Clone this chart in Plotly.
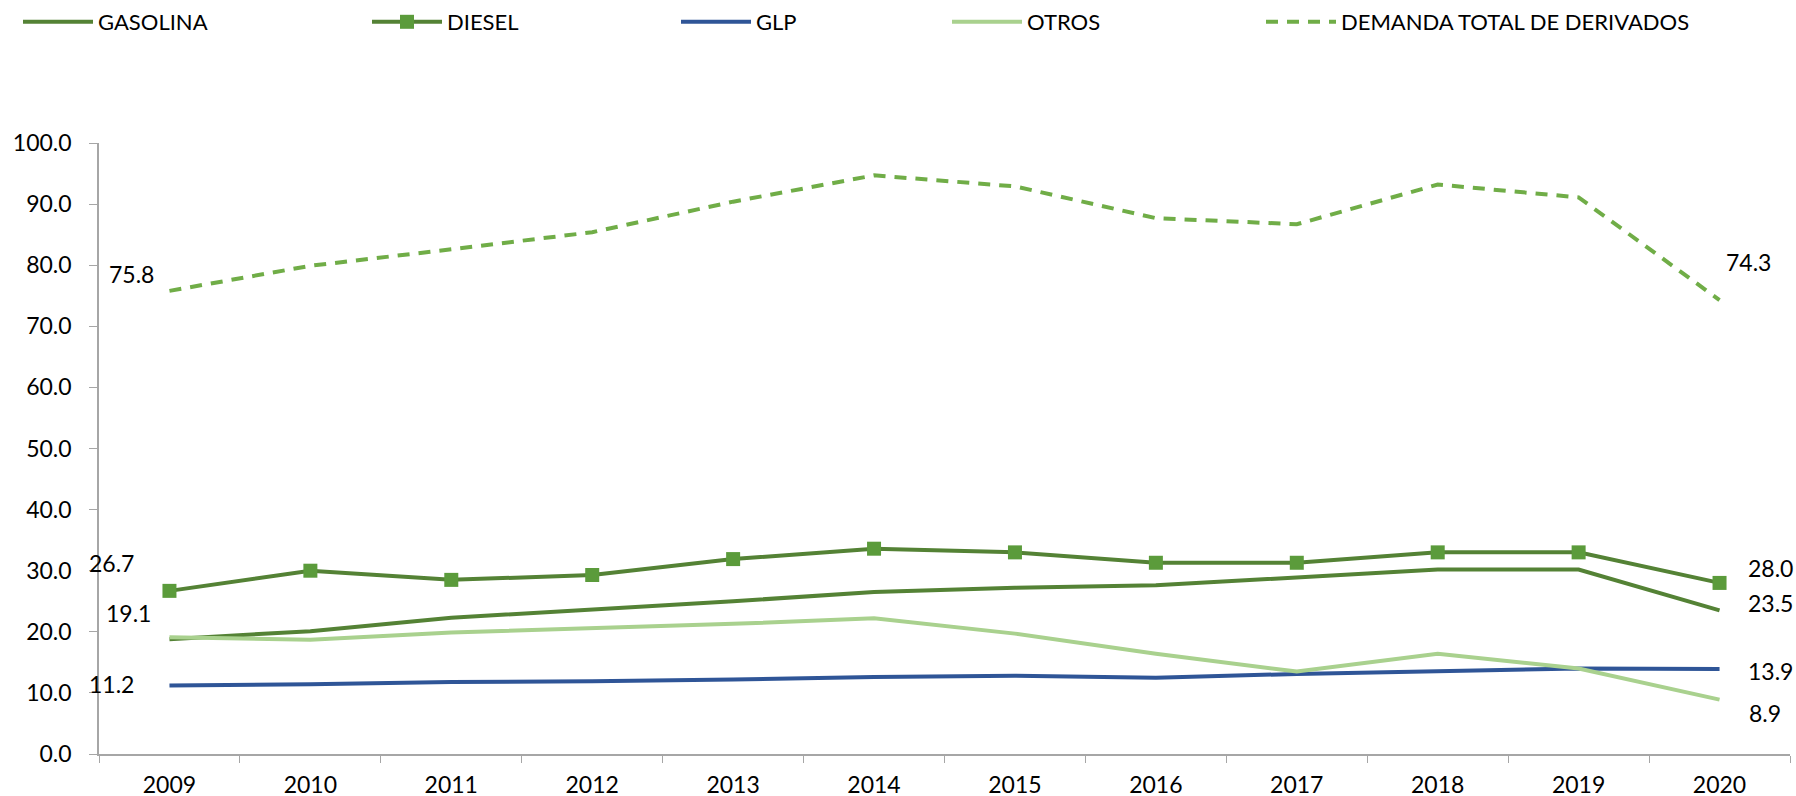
import plotly.graph_objects as go

# ---- data ----
years = ["2009", "2010", "2011", "2012", "2013", "2014", "2015", "2016", "2017", "2018", "2019", "2020"]
gasolina = [18.8, 20.1, 22.3, 23.6, 25.0, 26.5, 27.2, 27.6, 28.9, 30.2, 30.2, 23.5]
diesel = [26.7, 30.0, 28.5, 29.3, 31.9, 33.6, 33.0, 31.3, 31.3, 33.0, 33.0, 28.0]
glp = [11.2, 11.4, 11.8, 11.9, 12.2, 12.6, 12.8, 12.5, 13.1, 13.6, 14.0, 13.9]
otros = [19.1, 18.7, 19.9, 20.6, 21.3, 22.2, 19.7, 16.4, 13.5, 16.4, 14.0, 8.9]
demanda = [75.8, 79.9, 82.6, 85.4, 90.4, 94.7, 92.9, 87.7, 86.7, 93.2, 91.1, 74.3]
y_ticks = [0, 10, 20, 30, 40, 50, 60, 70, 80, 90, 100]

FONT = "Lato, 'Open Sans', sans-serif"
W, H = 1796, 796

C_GAS = "#548235"
C_DIE = "#548235"
C_DIE_M = "#5B9B3B"
C_GLP = "#2F5597"
C_OTR = "#A9D18E"
C_DEM = "#70AD47"

fig = go.Figure()

series = [
    ("GASOLINA", gasolina, dict(color=C_GAS, width=4), None, "legend"),
    ("DIESEL", diesel, dict(color=C_DIE, width=4), dict(symbol="square", size=14, color=C_DIE_M), "legend2"),
    ("GLP", glp, dict(color=C_GLP, width=4), None, "legend3"),
    ("OTROS", otros, dict(color=C_OTR, width=4), None, "legend4"),
    ("DEMANDA TOTAL DE DERIVADOS", demanda, dict(color=C_DEM, width=4, dash="12px,9px"), None, "legend5"),
]
for name, vals, line, marker, lg in series:
    fig.add_trace(go.Scatter(
        x=years, y=vals, name=name, mode="lines+markers" if marker else "lines",
        line=line, marker=marker, legend=lg, hoverinfo="skip",
    ))

# legend placement (container pixels)
legend_left_px = [18, 367, 676, 947, 1261]
legend_common = dict(xref="container", yref="container", xanchor="left", yanchor="middle",
                     y=1 - 22 / H, orientation="h", bgcolor="rgba(0,0,0,0)", itemwidth=70,
                     font=dict(family=FONT, size=22, color="#000000"))
legends = {}
for i, px in enumerate(legend_left_px):
    key = "legend" if i == 0 else f"legend{i + 1}"
    legends[key] = dict(legend_common, x=px / W)

# data labels (series, category index, pixel offsets)
label_specs = [
    (demanda, 0, -38, 17), (diesel, 0, -58, 28), (otros, 0, -41, 24), (glp, 0, -58, 2),
    (demanda, 11, 29, 38), (diesel, 11, 51, 15), (gasolina, 11, 51, 7),
    (glp, 11, 51, -2), (otros, 11, 45, -13),
]

fig.update_layout(
    width=W, height=H,
    margin=dict(l=99, r=6, t=143, b=42, autoexpand=False),
    paper_bgcolor="white", plot_bgcolor="white",
    showlegend=True,
    **legends,
)
for vals, idx, dx, dy in label_specs:
    fig.add_annotation(
        x=idx, y=vals[idx], xref="x", yref="y", text=f"{vals[idx]:.1f}",
        showarrow=False, xshift=dx, yshift=dy, xanchor="center", yanchor="middle",
        font=dict(family=FONT, size=23, color="#000000"),
    )

fig.update_xaxes(
    type="category", range=[-0.5, 11.5], showgrid=False, zeroline=False,
    showline=True, linecolor="#A6A6A6", linewidth=1.5,
    ticks="outside", tickson="boundaries", ticklen=7, tickcolor="#A6A6A6",
    tickfont=dict(family=FONT, size=23, color="#000000"), ticklabelstandoff=10,
    automargin=False,
)
fig.update_yaxes(
    range=[0, 100], tickvals=y_ticks, tickformat=".1f", showgrid=False, zeroline=False,
    showline=True, linecolor="#A6A6A6", linewidth=1.5,
    ticks="outside", ticklen=8, tickcolor="#A6A6A6",
    tickfont=dict(family=FONT, size=23, color="#000000"), ticklabelstandoff=13,
    automargin=False,
)

fig.write_html("out.html", config={"displayModeBar": False},
               post_script="document.body.style.margin='0px';")
